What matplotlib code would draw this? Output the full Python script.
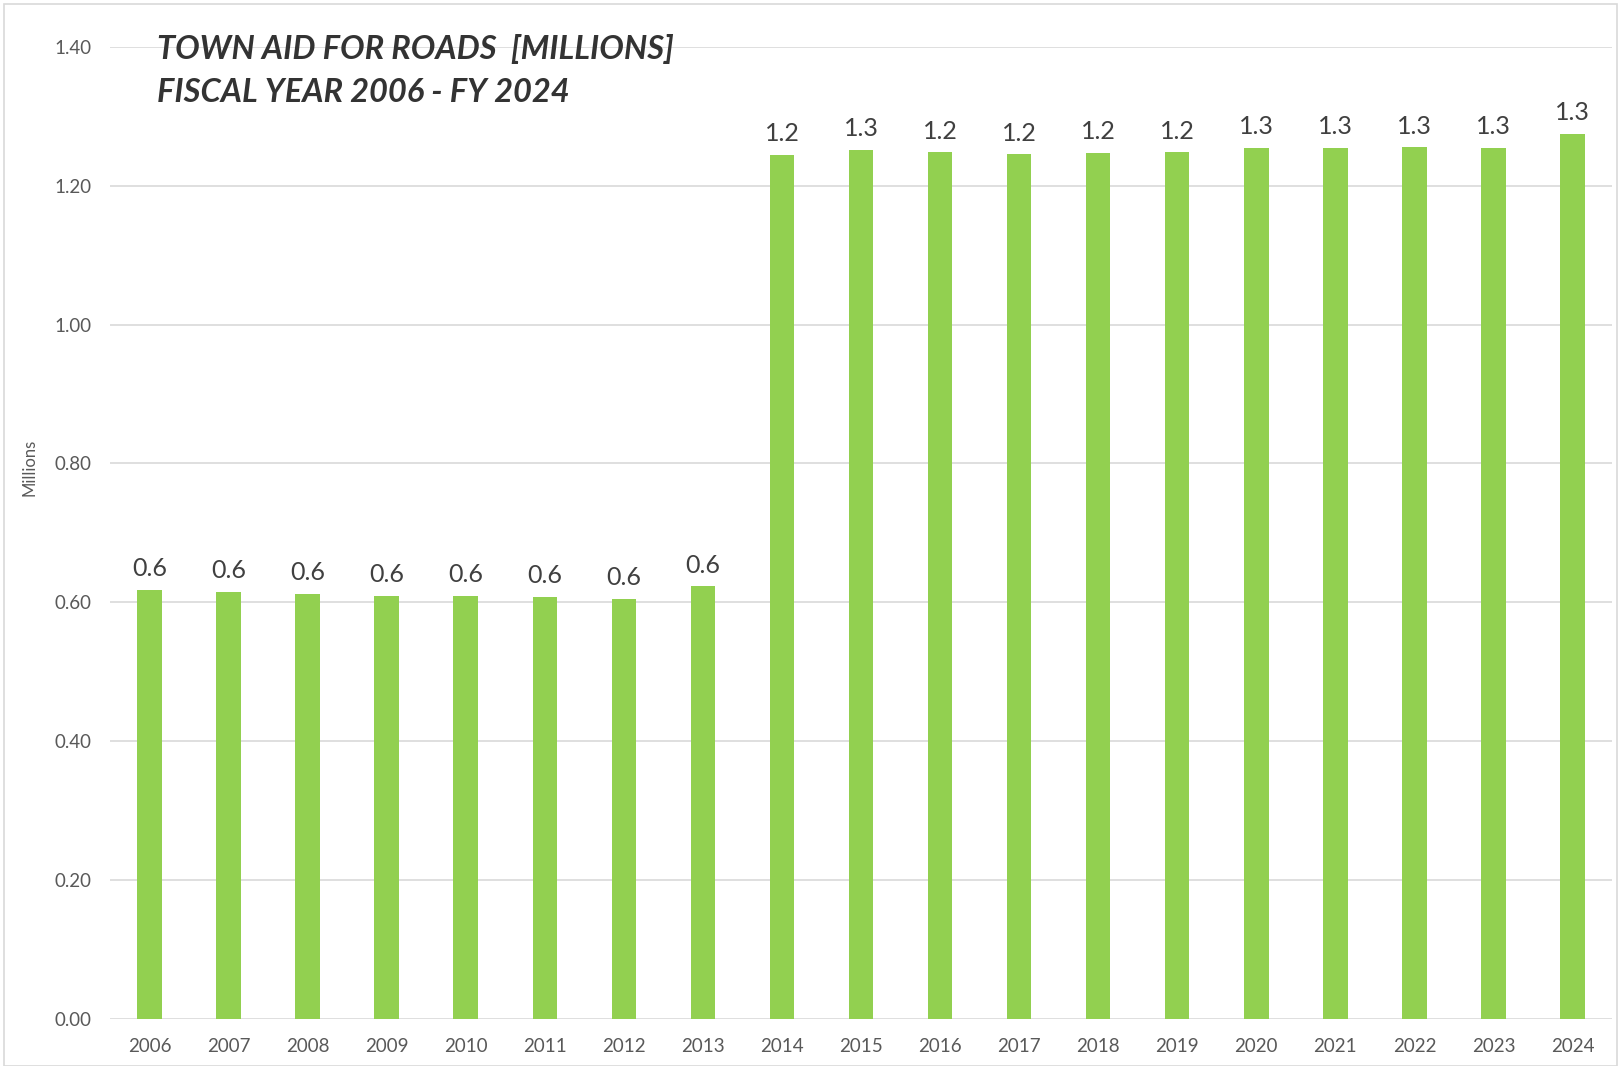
import matplotlib
matplotlib.use("Agg")
import matplotlib.pyplot as plt
from matplotlib.patches import Rectangle

years = ["2006", "2007", "2008", "2009", "2010", "2011", "2012", "2013", "2014",
         "2015", "2016", "2017", "2018", "2019", "2020", "2021", "2022", "2023", "2024"]
values = [0.618, 0.615, 0.612, 0.609, 0.609, 0.608, 0.605, 0.623, 1.244,
          1.251, 1.248, 1.245, 1.247, 1.248, 1.254, 1.254, 1.255, 1.254, 1.274]
yticks = [0.0, 0.2, 0.4, 0.6, 0.8, 1.0, 1.2, 1.4]
title_lines = ["TOWN AID FOR ROADS  [MILLIONS]", "FISCAL YEAR 2006 - FY 2024"]
ylabel = "Millions"

plt.rcParams['font.family'] = ['Lato', 'DejaVu Sans']

fig = plt.figure(figsize=(16.19, 10.66), dpi=100)
ax = fig.add_axes([110/1619, 1 - 1019/1066, (1612-110)/1619, (1019-46.7)/1066])

x = list(range(len(years)))
bars = ax.bar(x, values, width=0.31, color="#92D050", zorder=3)
for xi, v in zip(x, values):
    ax.annotate(f"{v:.1f}", (xi, v), xytext=(0, 7), textcoords="offset points",
                ha="center", va="bottom", fontsize=18, color="#404040")

ax.set_xlim(-0.5, len(years) - 0.5)
ax.set_ylim(0, 1.4)
ax.set_yticks(yticks)
ax.set_yticklabels([f"{t:.2f}" for t in yticks])
ax.set_xticks(x)
ax.set_xticklabels(years)
ax.tick_params(axis="both", length=0, labelsize=13.5, labelcolor="#595959")
ax.tick_params(axis="y", pad=13)
ax.tick_params(axis="x", pad=14)
ax.grid(axis="y", color="#D9D9D9", linewidth=1.2, zorder=0)
for s in ax.spines.values():
    s.set_visible(False)

fig.text(30/1619, 1 - 467/1066, ylabel, rotation=90, ha="center", va="center",
         fontsize=12, color="#595959")

fig.text(157/1619, 1 - 48.5/1066, title_lines[0], ha="left", va="center",
         fontsize=23.5, fontweight="bold", fontstyle="italic", color="#333333")
fig.text(157/1619, 1 - 92/1066, title_lines[1], ha="left", va="center",
         fontsize=23.5, fontweight="bold", fontstyle="italic", color="#333333")

fig.patches.append(Rectangle((4/1619, 0.0), 1 - 6/1619, 1 - 4/1066, transform=fig.transFigure,
                             fill=False, edgecolor="#D9D9D9", linewidth=1.2))

fig.savefig("out.png", dpi=100)
